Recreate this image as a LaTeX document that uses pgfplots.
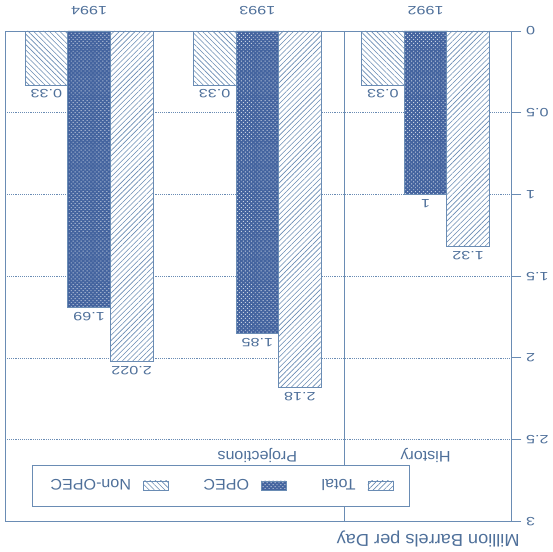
\documentclass[border=0pt]{standalone}
\usepackage{graphicx}
\usepackage{fontspec}
\setmainfont{Liberation Sans}[FakeStretch=1.05]
\newfontfamily\numfont{Liberation Sans}[FakeStretch=1.35]
\newcommand\lf[1]{\rotatebox[origin=c]{180}{\fontsize{11.5}{13}\selectfont #1}}
\usepackage{pgfplots}
\pgfplotsset{compat=1.18}
\usetikzlibrary{patterns.meta}
\definecolor{ln}{HTML}{6A8CB4}
\definecolor{tx}{HTML}{4F709A}
\definecolor{op}{HTML}{44649F}
\tikzset{
  totalstyle/.style={draw=ln, line width=0.6pt, fill=white, postaction={pattern={Lines[angle=45,distance=2.8pt,line width=0.45pt]}, pattern color=ln}},
  nonopecstyle/.style={draw=ln, line width=0.6pt, fill=white, postaction={pattern={Lines[angle=-45,distance=2.8pt,line width=0.45pt]}, pattern color=ln}},
  opecstyle/.style={draw=ln, line width=0.6pt, fill=op, postaction={pattern={Dots[radius=0.5pt,distance=2.1pt,angle=45]}, pattern color=white!70!op}},
}
\begin{document}
\begin{tikzpicture}
\begin{axis}[
  scale only axis, width=380pt, height=368pt,
  x dir=reverse, y dir=reverse,
  xmin=-0.51, xmax=2.5, ymin=0, ymax=3,
  ybar=0pt, bar width=32pt,
  xtick={0,1,2}, xticklabels={1992,1993,1994},
  ytick={0,0.5,1,1.5,2,2.5,3},
  xticklabel pos=upper, yticklabel pos=right,
  ytick pos=right, xtick pos=upper,
  tick align=outside,
  major tick length=7.5pt,
  xtick style={draw=none},
  ytick style={draw=ln, line width=0.6pt},
  axis line style={draw=ln, line width=0.6pt},
  ymajorgrids, grid style={densely dotted, ln, line width=0.5pt},
  /pgf/number format/assume math mode=true,
  yticklabel style={rotate=180, anchor=east, font=\numfont\fontsize{9}{10}\selectfont, text=tx},
  xticklabel style={yshift=1pt, rotate=180, anchor=north, font=\numfont\fontsize{9}{10}\selectfont, text=tx},
  nodes near coords={\pgfmathprintnumber[precision=3]{\pgfplotspointmeta}},
  every node near coord/.append style={rotate=180, anchor=south, font=\numfont\fontsize{9}{10}\selectfont, text=tx},
  legend columns=-1,
  legend plot pos=right,
  reverse legend,
  legend style={at={(axis description cs:0.426,0.073)}, anchor=center,
    draw=ln, line width=0.6pt, inner xsep=12pt, inner ysep=8.5pt,
    text=tx,
    /tikz/every odd column/.append style={column sep=7pt},
    /tikz/every even column/.append style={column sep=24pt}},
  every axis plot post/.append style={legend image code/.code={\draw[##1, line width=0.4pt] (0pt,-3.5pt) rectangle (19pt,3.5pt);}},
]
\addplot[totalstyle, bar shift=32pt] coordinates {(0,1.32) (1,2.18) (2,2.022)};
\addplot[opecstyle, bar shift=0pt] coordinates {(0,1) (1,1.85) (2,1.69)};
\addplot[nonopecstyle, bar shift=-32pt] coordinates {(0,0.33) (1,0.33) (2,0.33)};
\legend{\lf{Total}, \lf{OPEC}, \lf{Non-OPEC}}
\draw[ln, line width=0.6pt] (axis cs:0.48,0) -- (axis cs:0.48,3);
\node[rotate=180, text=tx, font=\fontsize{11.5}{13}\selectfont] at (axis cs:0,2.6) {History};
\node[rotate=180, text=tx, font=\fontsize{11.5}{13}\selectfont] at (axis cs:1,2.6) {Projections};
\end{axis}
\node[rotate=180, anchor=west, text=tx, font=\fontsize{13}{15}\selectfont] at ([xshift=9.75pt, yshift=-13.5pt]current axis.south east) {Million Barrels per Day};
\path ([xshift=-3.75pt, yshift=-19.5pt]current axis.south west) rectangle ([xshift=30.75pt, yshift=23.25pt]current axis.north east);
\end{tikzpicture}
\end{document}
